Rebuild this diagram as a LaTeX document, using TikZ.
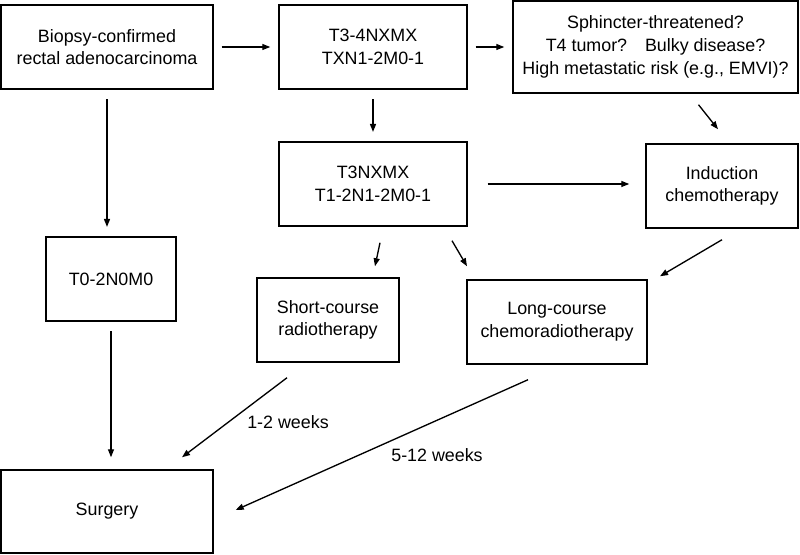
\documentclass[tikz,border=0pt]{standalone}
\usepackage{fontspec}
\setmainfont{Liberation Sans}
\usetikzlibrary{calc, arrows.meta}

\begin{document}
\begin{tikzpicture}[x=0.75pt, y=-0.75pt,
		box/.style={draw, line width=1.1pt, align=center, inner sep=0pt,
			font=\fontsize{13.4}{17}\selectfont},
		arr/.style={line width=1pt, -{Triangle[length=6pt, width=4.5pt]}},
		lbl/.style={font=\fontsize{13.4}{17}\selectfont}]
			\useasboundingbox (0,0) rectangle (800,555);
			
			\node [box, minimum width=212*0.75pt, minimum height=84*0.75pt] (bio) at (107,47) {Biopsy-confirmed\\rectal adenocarcinoma};
			\node [box, minimum width=188*0.75pt, minimum height=84*0.75pt] (t34) at (373,47) {T3-4NXMX\\TXN1-2M0-1};
			\node [box, minimum width=285*0.75pt, minimum height=92*0.75pt] (sph) at (655.5,47) {Sphincter-threatened?\\T4 tumor?\hspace{1em}Bulky disease?\\High metastatic risk (e.g., EMVI)?};
			\node [box, minimum width=188*0.75pt, minimum height=84*0.75pt] (t3) at (373,184) {T3NXMX\\T1-2N1-2M0-1};
			\node [box, minimum width=152*0.75pt, minimum height=84*0.75pt] (ind) at (722,186) {Induction\\chemotherapy};
			\node [box, minimum width=130*0.75pt, minimum height=84*0.75pt] (t0) at (111,279) {T0-2N0M0};
			\node [box, minimum width=142*0.75pt, minimum height=84*0.75pt] (short) at (328,320) {Short-course\\radiotherapy};
			\node [box, minimum width=180*0.75pt, minimum height=84*0.75pt] (long) at (557,322) {Long-course\\chemoradiotherapy};
			\node [box, minimum width=212*0.75pt, minimum height=83*0.75pt] (surg) at (107,511.5) {Surgery};
			
			\node [lbl] (wk1) at (288,422) {1-2 weeks};
			\node [lbl] (wk2) at (437,455) {5-12 weeks};
			
			\draw [arr, shorten <=6pt, shorten >=6pt] (bio.east) -- (t34.west);
			\draw [arr, shorten <=6pt, shorten >=6pt] (t34.east) -- (t34.east -| sph.west);
			\draw [arr, shorten <=7pt, shorten >=7pt] (t34.south) -- (t3.north);
			\draw [arr] ($(sph.south)+(43,11)$) -- ($(ind.north)+(-4,-14)$);
			\draw [arr, shorten <=15pt, shorten >=12pt] (t3.east) -- (t3.east -| ind.west);
			\draw [arr] ($(t3.south)+(7,16)$) -- ($(short.north)+(47,-11)$);
			\draw [arr] ($(t3.south)+(79,14)$) -- ($(long.north)+(-90,-13)$);
			\draw [arr] ($(ind.south)+(0,11)$) -- ($(long.north)+(103,-3)$);
			\draw [arr, shorten <=7pt, shorten >=7pt] (bio.south) -- (bio.south |- t0.north);
			\draw [arr, shorten <=7pt, shorten >=9pt] (t0.south) -- (t0.south |- surg.north);
			\draw [arr] ($(short.south)+(-41,15)$) -- ($(surg.north)+(75,-12)$);
			\draw [arr] ($(long.south)+(-29,15)$) -- ($(surg.east)+(22,-1.5)$);
		\end{tikzpicture}
\end{document}
